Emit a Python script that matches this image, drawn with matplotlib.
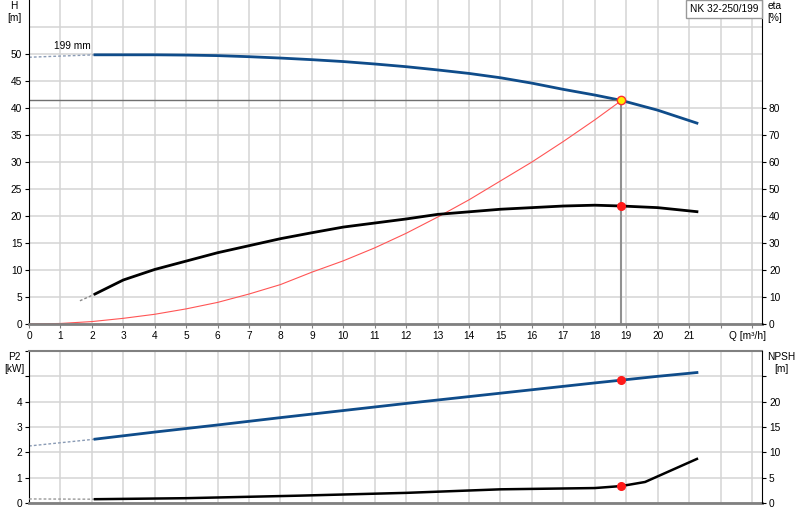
import numpy as np
import matplotlib
matplotlib.use("Agg")
from matplotlib import pyplot as plt

plt.rcParams["font.family"] = ["Liberation Sans", "DejaVu Sans"]

# pump data (Q in m3/h)
q_h = [2.1, 4, 5, 6, 7, 8, 9, 10, 11, 12, 13, 14, 15, 16, 17, 18, 18.85, 20, 21.25]
h_vals = [49.85, 49.85, 49.8, 49.7, 49.5, 49.25, 48.95, 48.6, 48.15, 47.65, 47.05,
          46.4, 45.6, 44.6, 43.45, 42.4, 41.4, 39.6, 37.2]
h_ext_q = [0, 2.1]
h_ext = [49.4, 49.85]

q_eta = [2.1, 3, 4, 5, 6, 7, 8, 9, 10, 12, 13, 15, 17, 18, 18.85, 20, 21.25]
eta_vals = [11.1, 16.3, 20.2, 23.3, 26.4, 29.0, 31.6, 33.8, 35.9, 38.9, 40.6, 42.5,
            43.7, 44.0, 43.7, 43.1, 41.6]
eta_ext_q = [1.62, 2.1]
eta_ext = [8.6, 11.1]

q_sys = [0, 1, 2, 3, 4, 5, 6, 7, 8, 9, 10, 11, 12, 13, 14, 15, 16, 17, 18, 18.85]
h_sys = [0, 0.1, 0.45, 1.05, 1.8, 2.8, 4.0, 5.55, 7.3, 9.6, 11.7, 14.1, 16.8, 19.8,
         23.0, 26.5, 30.0, 33.8, 37.8, 41.4]

q_p2 = [2.1, 4, 6, 8, 10, 12, 14, 16, 18, 18.85, 20, 21.25]
p2_vals = [2.52, 2.8, 3.08, 3.37, 3.65, 3.93, 4.2, 4.47, 4.74, 4.85, 5.0, 5.15]
p2_ext_q = [0, 2.1]
p2_ext = [2.25, 2.52]

q_npsh = [2.1, 5, 8.6, 12, 15, 18, 18.85, 19.6, 21.25]
npsh_vals = [0.75, 0.95, 1.45, 2.0, 2.7, 2.95, 3.35, 4.15, 8.7]
npsh_ext_q = [0, 2.1]
npsh_ext = [0.8, 0.75]

q_op = 18.85
h_op = 41.4
eta_op = 43.7
p2_op = 4.85
npsh_op = 3.35

blue = "#0f4c8a"
gridc = "#d4d4d4"
fs = 7.3

fig = plt.figure(figsize=(8, 5.2), dpi=100)
ax = fig.add_axes([29/800, 1-324/520, 733/800, 324/520])
ax2 = ax.twinx()
bx = fig.add_axes([29/800, 1-503/520, 733/800, 152/520])
bx2 = bx.twinx()

xmax = 23.32
for a in (ax, bx):
    a.set_xlim(0, xmax)
    a.set_xticks(range(0, 24))
    a.grid(True, color=gridc, lw=1.1)
    a.set_axisbelow(True)
    a.spines["bottom"].set_color("#808080")
    a.spines["bottom"].set_linewidth(2)
    a.spines["left"].set_color("black")
    a.tick_params(axis="both", direction="out", length=3, labelsize=fs, pad=2)
    a.tick_params(axis="x", colors="#808080", labelcolor="black")
for a in (ax2, bx2):
    a.spines["right"].set_color("black")
    a.tick_params(axis="y", direction="out", length=3, labelsize=fs, pad=2)
    a.spines["top"].set_visible(False)
    a.spines["bottom"].set_visible(False)
    a.spines["left"].set_visible(False)
ax.spines["top"].set_visible(False)
bx.spines["top"].set_color("#808080")
bx.spines["top"].set_linewidth(1.5)
ax.spines["right"].set_visible(False)
bx.spines["right"].set_visible(False)

# top panel: head
ax.set_ylim(0, 60)
ax.set_yticks(range(0, 51, 5))
ax.axhline(55, color=gridc, lw=1.1, zorder=0)
ax.set_xticklabels([str(v) for v in range(0, 22)] + ["", ""])
ax.plot(h_ext_q, h_ext, color="#8a9bb5", lw=1, ls=(0, (2, 1.5)))
ax.plot(q_h, h_vals, color=blue, lw=2)
ax.plot(q_sys, h_sys, color="#ff5555", lw=0.8)
ax.plot([0, q_op], [h_op, h_op], color="#707070", lw=1)
ax.plot([q_op, q_op], [0, h_op], color="#909090", lw=1.5)
ax.plot(q_op, h_op, "o", ms=6, mfc="#ffee00", mec="#ff3030", mew=1, zorder=5)
ax.text(1.37, 51.4, "199 mm", fontsize=fs, ha="center", va="center")
ax.text(22.85, -1.3, "Q [m³/h]", fontsize=fs, ha="center", va="top")

# efficiency
ax2.set_ylim(0, 120)
ax2.set_yticks(range(0, 81, 10))
ax2.plot(eta_ext_q, eta_ext, color="#888888", lw=1, ls=(0, (2, 1.5)))
ax2.plot(q_eta, eta_vals, color="black", lw=2)
ax2.plot(q_op, eta_op, "o", ms=5.5, color="#ff1a1a", zorder=5)

# bottom panel: power and NPSH
bx.set_ylim(0, 6)
bx.set_yticks(range(0, 7))
bx.set_yticklabels(["0", "1", "2", "3", "4", "", ""])
bx.set_xticklabels([])
bx.tick_params(axis="x", length=0)
bx.plot(p2_ext_q, p2_ext, color="#8a9bb5", lw=1, ls=(0, (2, 1.5)))
bx.plot(q_p2, p2_vals, color=blue, lw=2)
bx.plot(q_op, p2_op, "o", ms=5.5, color="#ff1a1a", zorder=5)

bx2.set_ylim(0, 30)
bx2.set_yticks(range(0, 30, 5))
bx2.set_yticklabels(["0", "5", "10", "15", "20", ""])
bx2.plot(npsh_ext_q, npsh_ext, color="#999999", lw=1, ls=(0, (2, 1.5)))
bx2.plot(q_npsh, npsh_vals, color="black", lw=1.8)
bx2.plot(q_op, npsh_op, "o", ms=5.5, color="#ff1a1a", zorder=5)

# axis titles
def two_line(x, y, top, bottom):
    fig.text(x/800, 1-y/520, top, fontsize=fs, ha="center", va="center")
    fig.text(x/800, 1-(y+12)/520, bottom, fontsize=fs, ha="center", va="center")

two_line(14, 6, "H", "[m]")
two_line(775, 6, "eta", "[%]")
two_line(14, 357, "P2", "[kW]")
two_line(781, 357, "NPSH", "[m]")
fig.text(724/800, 1-9/520, "NK 32-250/199", fontsize=fs, ha="center", va="center",
         bbox=dict(boxstyle="square,pad=0.35", fc="white", ec="#999999", lw=1))

fig.savefig("out.png", dpi=100)
